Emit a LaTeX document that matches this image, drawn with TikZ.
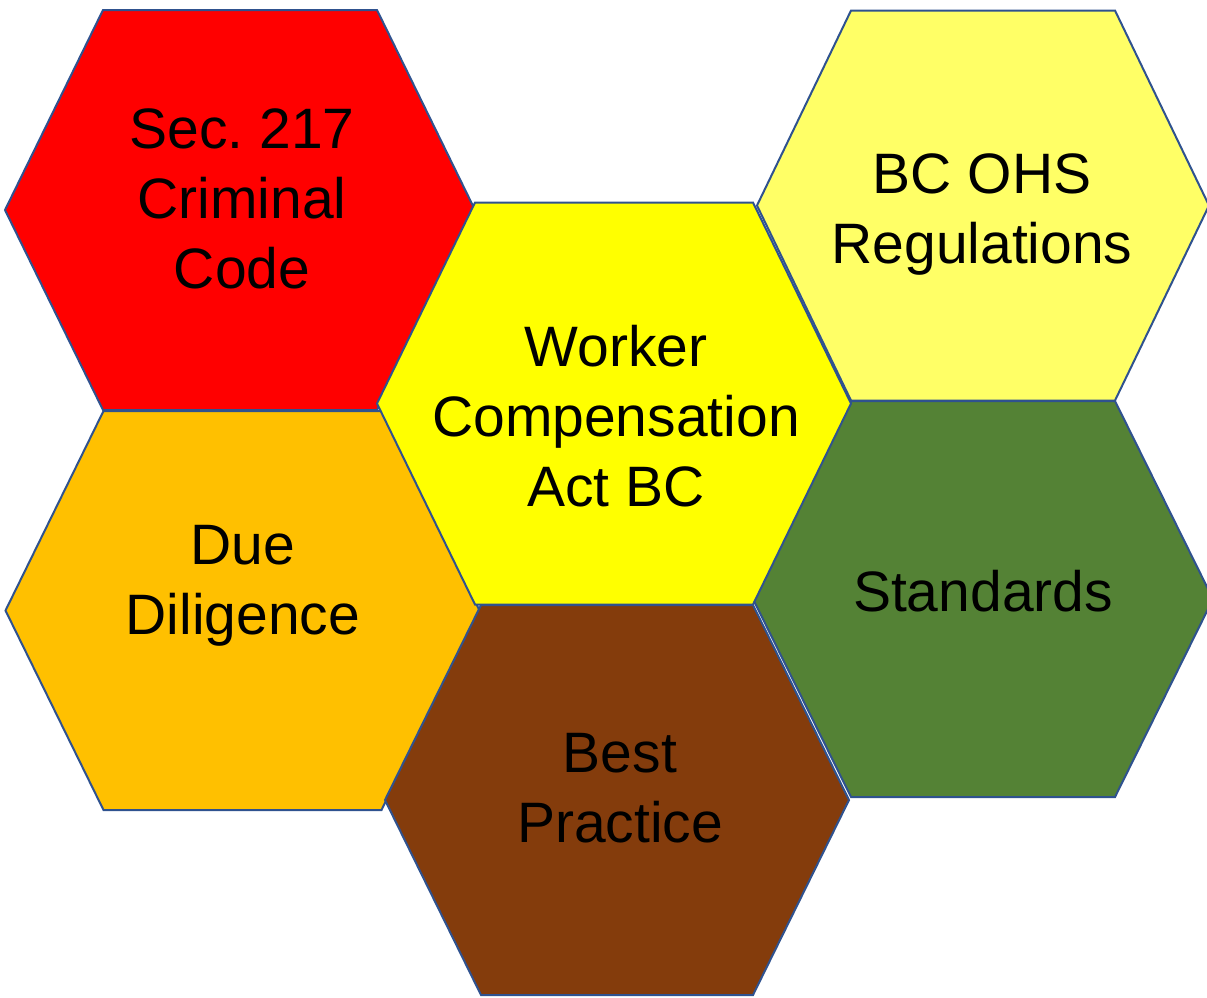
\documentclass[tikz,border=0pt]{standalone}
\usepackage{fontspec}
\setmainfont{Liberation Sans}
\frenchspacing
\definecolor{hexline}{RGB}{47,82,143}
\definecolor{cred}{RGB}{255,0,0}
\definecolor{cyel}{RGB}{255,255,0}
\definecolor{clyel}{RGB}{255,255,102}
\definecolor{corange}{RGB}{255,192,0}
\definecolor{cbrown}{RGB}{132,60,12}
\definecolor{cgreen}{RGB}{84,130,53}
\newcommand\hexcell[6]{%
  \filldraw[hexstyle, fill=#6] ({#1-#3},{#2}) -- ({#1-#4},{#2-#5}) -- ({#1+#4},{#2-#5})
    -- ({#1+#3},{#2}) -- ({#1+#4},{#2+#5}) -- ({#1-#4},{#2+#5}) -- cycle;}
\begin{document}
\begin{tikzpicture}[x=1pt,y=-1pt,
  hexstyle/.style={draw=hexline, line width=2pt, line join=miter},
  hextext/.style={inner sep=0pt, align=center, anchor=center, text=black,
    font=\fontsize{57}{70}\selectfont}]
\useasboundingbox (0,0) rectangle (1207,997);
\hexcell{240}{210}{235}{137}{200}{cred}
\hexcell{983}{205.5}{226}{132}{195}{clyel}
\hexcell{242.5}{610.5}{237}{139}{199.5}{corange}
\hexcell{983}{599}{230}{132}{198}{cgreen}
\hexcell{614}{403.5}{237}{139}{201}{cyel}
\hexcell{617}{800}{232}{136}{195}{cbrown}
\node[hextext] (crim) at (242,199) {Sec. 217\\Criminal\\Code};
\node[hextext] (wca) at (616,416) {Worker\\Compensation\\Act BC};
\node[hextext] (ohs) at (982,214.5) {BC OHS\\Regulations};
\node[hextext] (due) at (243,586) {Due\\Diligence};
\node[hextext] (best) at (620,788.5) {Best\\Practice};
\node[hextext] (std) at (983,591) {Standards};
\end{tikzpicture}
\end{document}
